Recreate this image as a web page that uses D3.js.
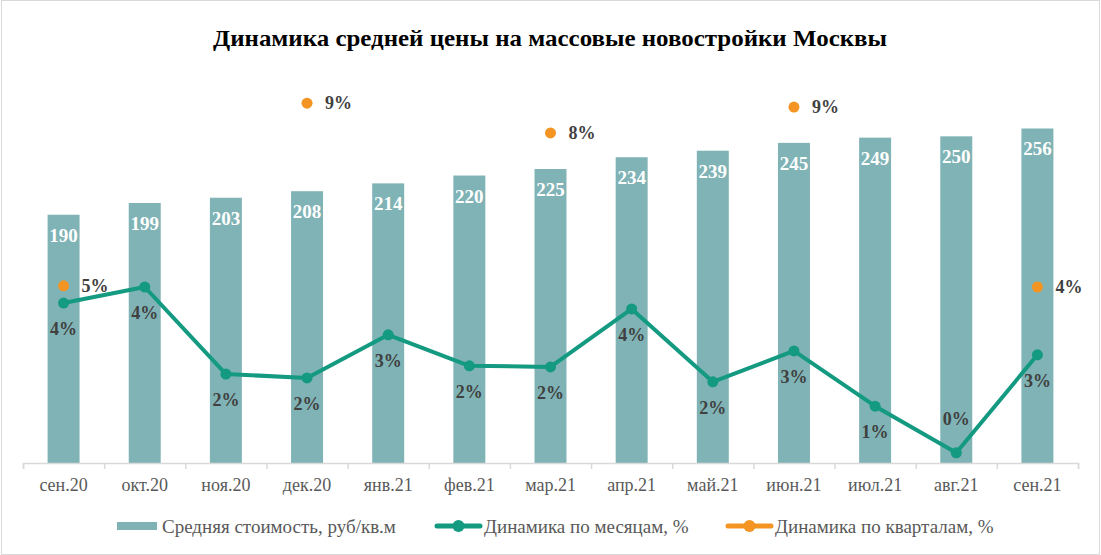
<!DOCTYPE html>
<html>
<head>
<meta charset="utf-8">
<script src="https://cdn.jsdelivr.net/npm/d3@7"></script>
<style>
  html, body { margin: 0; padding: 0; background: #fff; }
  svg { display: block; font-family: "Liberation Serif", "Times New Roman", serif; }
</style>
</head>
<body>
<div id="chart"></div>
<script>
// ===== data =====
const months = ['сен.20', 'окт.20', 'ноя.20', 'дек.20', 'янв.21', 'фев.21', 'мар.21',
                'апр.21', 'май.21', 'июн.21', 'июл.21', 'авг.21', 'сен.21'];
const avgPrice = [190, 199, 203, 208, 214, 220, 225, 234, 239, 245, 249, 250, 256];
const monthlyPct = [4.08, 4.49, 2.27, 2.17, 3.27, 2.48, 2.45, 3.93, 2.07, 2.86, 1.45, 0.26, 2.76];
// quarterly change only on quarter-end months
const quarterMonths = ['сен.20', 'дек.20', 'мар.21', 'июн.21', 'сен.21'];
const quarterlyPct = [4.52, 9.18, 8.42, 9.08, 4.49];
const legendLabels = ['Средняя стоимость, руб/кв.м', 'Динамика по месяцам, %', 'Динамика по кварталам, %'];

const W = 1101, H = 555;
const C = { bar: '#7fb3b5', line: '#139a80', dot: '#f39423', label: '#404040', axis: '#595959', grid: '#d9d9d9' };
const FONT = '"Liberation Serif", "Times New Roman", serif';

const svg = d3.select('#chart').append('svg').attr('width', W).attr('height', H);

// chart frame
svg.append('rect')
  .attr('x', 1.5).attr('y', 0.5).attr('width', W - 3).attr('height', H - 1)
  .attr('fill', 'none').attr('stroke', '#d9d9d9');

svg.append('text')
  .attr('x', 550).attr('y', 46)
  .attr('text-anchor', 'middle')
  .attr('font-size', 24).attr('font-weight', 'bold').attr('fill', '#000')
  .attr('textLength', 674).attr('lengthAdjust', 'spacingAndGlyphs')
  .text('Динамика  средней цены на массовые новостройки  Москвы');

// ---- scales ----
const plot = { left: 23, right: 1078, top: 71, bottom: 463 };

const x = d3.scaleBand()
  .domain(months)
  .range([plot.left, plot.right])
  .paddingInner(0.606)
  .paddingOuter(0.303);

const yPrice = d3.scaleLinear().domain([0, 300]).range([plot.bottom, plot.top]);
const yPct   = d3.scaleLinear().domain([0, 10]).range([plot.bottom, plot.top]);
const cx = m => x(m) + x.bandwidth() / 2;

// ---- bars ----
svg.append('g').selectAll('rect')
  .data(avgPrice)
  .enter()
  .append('rect')
  .attr('x', (d, i) => x(months[i]))
  .attr('y', d => yPrice(d))
  .attr('width', x.bandwidth())
  .attr('height', d => plot.bottom - yPrice(d))
  .attr('fill', C.bar);

svg.append('g').selectAll('text')
  .data(avgPrice)
  .enter()
  .append('text')
  .attr('x', (d, i) => cx(months[i]))
  .attr('y', d => yPrice(d) + 27)
  .attr('text-anchor', 'middle')
  .attr('font-size', 19).attr('font-weight', 'bold').attr('fill', '#fff')
  .text(d => d);

// ---- x axis: line, boundary ticks, labels ----
const xTicks = d3.scaleLinear().domain([0, months.length]).range([plot.left, plot.right]);
const gTicks = svg.append('g')
  .attr('transform', `translate(0,${plot.bottom})`)
  .call(d3.axisBottom(xTicks).ticks(months.length).tickSize(6).tickFormat(''));
gTicks.select('.domain').attr('stroke', C.grid).attr('stroke-width', 1.5);
gTicks.selectAll('.tick line').attr('stroke', C.grid).attr('stroke-width', 1.5);

const gLabels = svg.append('g')
  .attr('transform', `translate(0,${plot.bottom})`)
  .call(d3.axisBottom(x).tickSize(0).tickPadding(15));
gLabels.attr('font-family', FONT);
gLabels.select('.domain').remove();
gLabels.selectAll('text')
  .attr('font-size', 18).attr('fill', C.axis);

// ---- monthly line ----
const line = d3.line()
  .x((d, i) => cx(months[i]))
  .y(d => yPct(d));

svg.append('path')
  .datum(monthlyPct)
  .attr('d', line)
  .attr('fill', 'none')
  .attr('stroke', C.line)
  .attr('stroke-width', 4)
  .attr('stroke-linejoin', 'round');

svg.append('g').selectAll('circle')
  .data(monthlyPct)
  .enter()
  .append('circle')
  .attr('cx', (d, i) => cx(months[i]))
  .attr('cy', d => yPct(d))
  .attr('r', 5.5)
  .attr('fill', C.line);

svg.append('g').selectAll('text')
  .data(monthlyPct)
  .enter()
  .append('text')
  .attr('x', (d, i) => cx(months[i]))
  // the lowest point gets its label above
  .attr('y', d => Math.round(d) === 0 ? yPct(d) - 28 : yPct(d) + 32)
  .attr('text-anchor', 'middle')
  .attr('font-size', 18).attr('font-weight', 'bold').attr('fill', C.label)
  .text(d => Math.round(d) + '%');

// ---- quarterly dots ----
svg.append('g').selectAll('circle')
  .data(quarterlyPct)
  .enter()
  .append('circle')
  .attr('cx', (d, i) => cx(quarterMonths[i]))
  .attr('cy', d => yPct(d))
  .attr('r', 5.5)
  .attr('fill', C.dot);

svg.append('g').selectAll('text')
  .data(quarterlyPct)
  .enter()
  .append('text')
  .attr('x', (d, i) => cx(quarterMonths[i]) + 18)
  .attr('y', d => yPct(d) + 6)
  .attr('font-size', 18).attr('font-weight', 'bold').attr('fill', C.label)
  .text(d => Math.round(d) + '%');

// ---- legend ----
const legendY = 526;
const legendX = [117, 437, 728];
const lg = svg.append('g').selectAll('g')
  .data(legendLabels)
  .enter()
  .append('g')
  .attr('transform', (d, i) => `translate(${legendX[i]},${legendY})`);

lg.each(function(d, i) {
  const g = d3.select(this);
  if (i === 0) {
    g.append('rect').attr('x', 0).attr('y', -4).attr('width', 40).attr('height', 8).attr('fill', C.bar);
  } else {
    const col = i === 1 ? C.line : C.dot;
    g.append('line').attr('x1', 0).attr('x2', 43).attr('y1', 0).attr('y2', 0)
      .attr('stroke', col).attr('stroke-width', 5).attr('stroke-linecap', 'round');
    g.append('circle').attr('cx', 21.5).attr('cy', 0).attr('r', 6).attr('fill', col);
  }
  g.append('text')
    .attr('x', i === 0 ? 45 : 47).attr('y', 7)
    .attr('font-size', 19).attr('fill', C.axis)
    .text(d);
});
</script>
</body>
</html>
